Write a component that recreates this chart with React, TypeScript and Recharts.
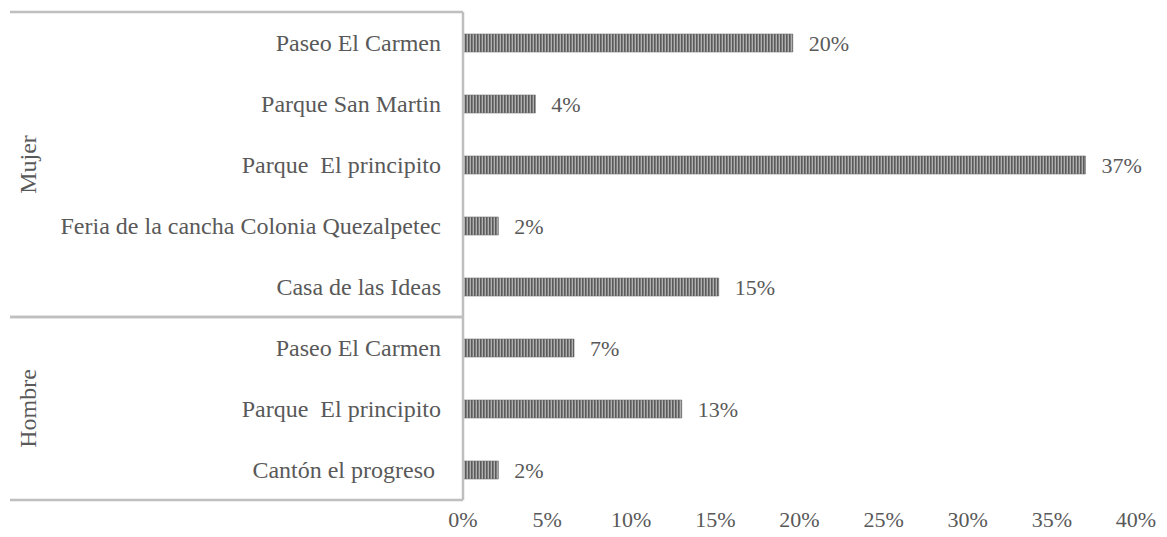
import { BarChart, Bar, XAxis, YAxis, LabelList } from 'recharts';

const groups = ['Mujer', 'Mujer', 'Mujer', 'Mujer', 'Mujer', 'Hombre', 'Hombre', 'Hombre'];
const places = [
  'Paseo El Carmen',
  'Parque San Martin',
  'Parque  El principito',
  'Feria de la cancha Colonia Quezalpetec',
  'Casa de las Ideas',
  'Paseo El Carmen',
  'Parque  El principito',
  'Cantón el progreso ',
];
const shares = [19.6, 4.3, 37.0, 2.1, 15.2, 6.6, 13.0, 2.1];
const xTicks = [0, 5, 10, 15, 20, 25, 30, 35, 40];

const FONT = '"Liberation Serif", "Times New Roman", serif';
const TEXT = '#595959';
const RULE = '#bfbfbf';
const TICK_GAP = 22;

const chartData = places.map((place, i) => ({ id: i, place, group: groups[i], share: shares[i] }));

function groupRange(i: number) {
  let start = i;
  while (start > 0 && groups[start - 1] === groups[i]) start--;
  let end = i;
  while (end < groups.length - 1 && groups[end + 1] === groups[i]) end++;
  return { start, end };
}

function CategoryTick(props: any) {
  const { x, y, payload } = props;
  const i = Number(payload.value);
  const half = payload.offset || 0;
  const axisX = x + TICK_GAP;
  const { start, end } = groupRange(i);
  const mid = Math.floor((start + end) / 2);
  const labelY = (end - start) % 2 === 0 ? y : y + half;
  return (
    <g>
      <text
        x={x}
        y={y}
        dy="0.355em"
        textAnchor="end"
        fill={TEXT}
        fontSize={24}
        fontFamily={FONT}
        style={{ whiteSpace: 'pre' }}
      >
        {places[i]}
      </text>
      {i === start && <line x1={10} x2={axisX} y1={y - half} y2={y - half} stroke={RULE} strokeWidth={2.5} />}
      {i === end && <line x1={10} x2={axisX} y1={y + half} y2={y + half} stroke={RULE} strokeWidth={2.5} />}
      {i === mid && (
        <text
          x={27}
          y={labelY}
          dy="0.355em"
          textAnchor="middle"
          fill={TEXT}
          fontSize={24}
          fontFamily={FONT}
          transform={`rotate(-90, 27, ${labelY})`}
        >
          {groups[i]}
        </text>
      )}
    </g>
  );
}

export default function App() {
  return (
    <div style={{ position: 'absolute', left: 0, top: 0, background: '#fff' }}>
      <BarChart
        width={1167}
        height={537}
        data={chartData}
        layout="vertical"
        margin={{ top: 12, right: 31, left: 0, bottom: 0 }}
        barCategoryGap={0}
      >
        <defs>
          <pattern id="stripes" width="3" height="4" patternUnits="userSpaceOnUse">
            <rect width="3" height="4" fill="#b0b0b0" />
            <rect width="1.6" height="4" fill="#5a5a5a" />
          </pattern>
        </defs>
        <XAxis
          type="number"
          domain={[0, 40]}
          ticks={xTicks}
          tickFormatter={(v: number) => `${v}%`}
          axisLine={false}
          tickLine={false}
          tickSize={0}
          tickMargin={11}
          height={37}
          tick={{ fill: TEXT, fontSize: 22, fontFamily: FONT }}
        />
        <YAxis
          type="category"
          dataKey="id"
          width={463}
          axisLine={{ stroke: RULE, strokeWidth: 2.5 }}
          tickLine={false}
          tickSize={0}
          tickMargin={TICK_GAP}
          interval={0}
          tick={<CategoryTick />}
        />
        <Bar dataKey="share" fill="url(#stripes)" stroke="#6e6e6e" strokeWidth={0.6} barSize={18} isAnimationActive={false}>
          <LabelList
            dataKey="share"
            position="right"
            offset={16}
            formatter={(v: any) => `${Math.round(Number(v))}%`}
            style={{ fill: TEXT, fontSize: 22, fontFamily: FONT }}
          />
        </Bar>
      </BarChart>
    </div>
  );
}
